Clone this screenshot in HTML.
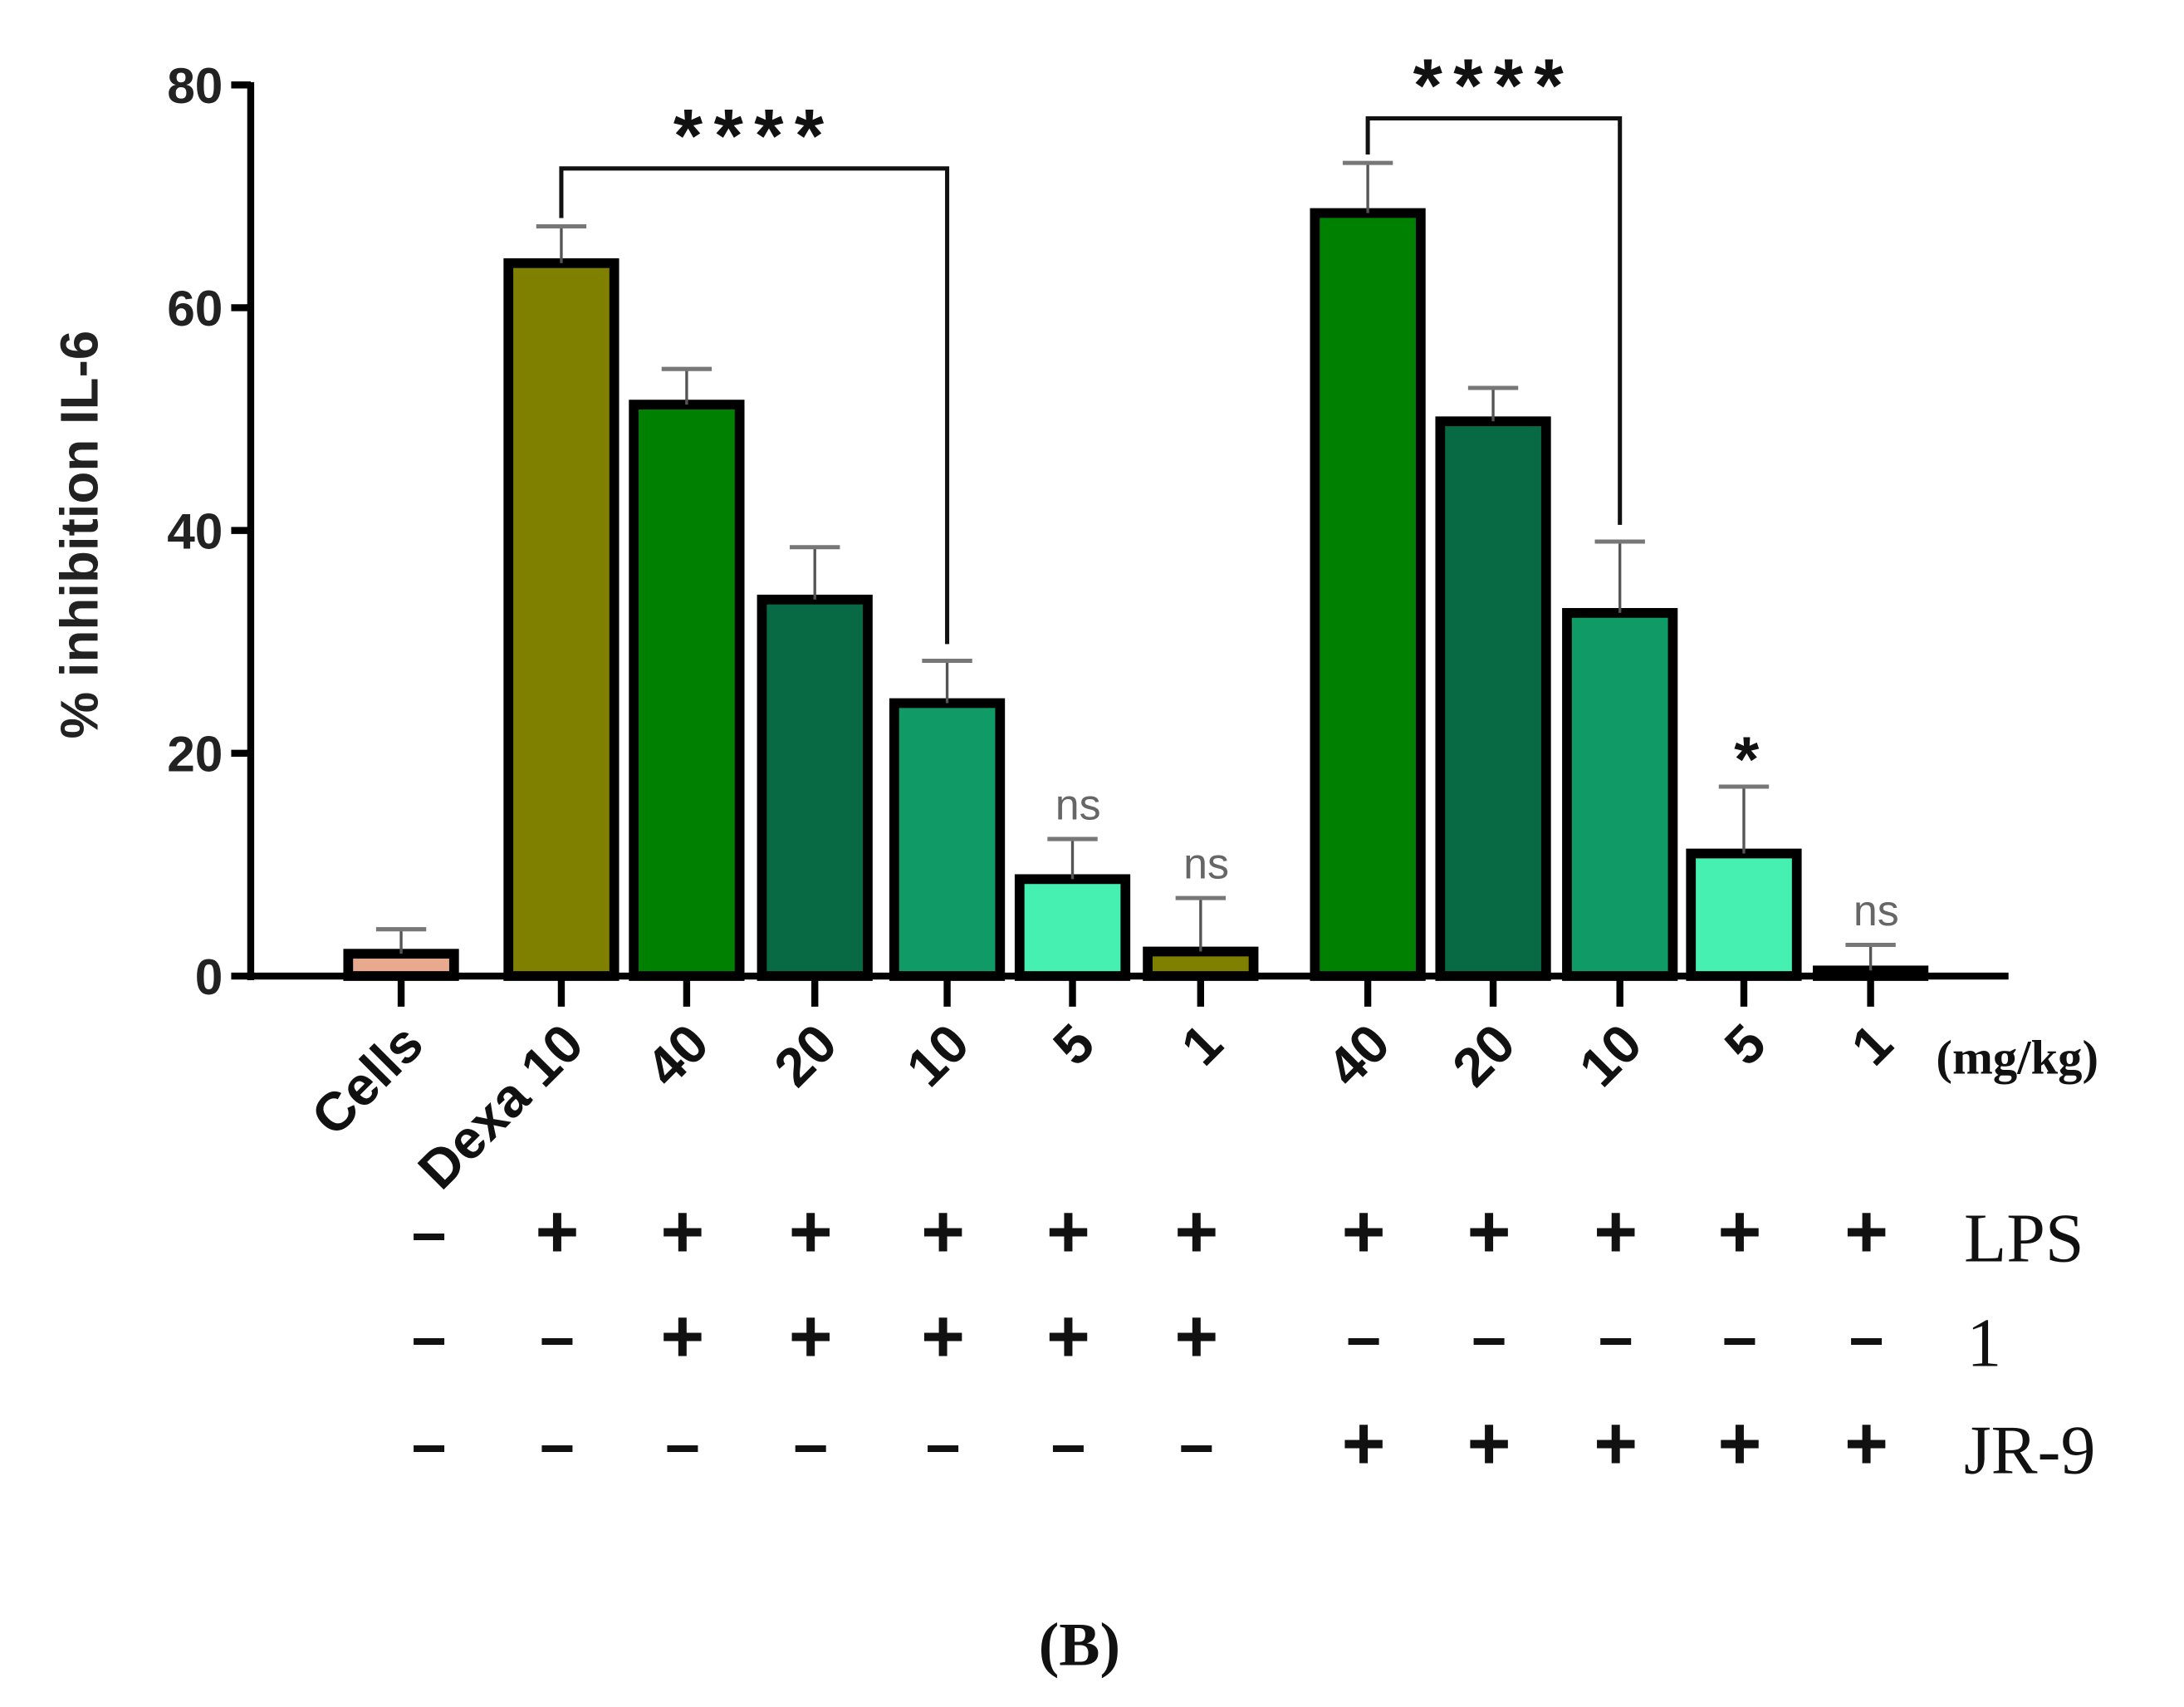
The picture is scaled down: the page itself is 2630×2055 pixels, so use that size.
<!DOCTYPE html>
<html><head><meta charset="utf-8"><style>
html,body{margin:0;padding:0;background:#fff;}
svg{display:block;}
</style></head><body>
<svg id="chart" width="2630" height="2055" viewBox="0 0 1568 1226" preserveAspectRatio="none" xmlns="http://www.w3.org/2000/svg">
<g id="bars"></g>
<g id="errs"></g>
<g id="yaxis"></g>
<g id="xaxis"></g>
<g id="annot"></g>
<g id="table"></g>
<text transform="translate(70,384) rotate(-90)" text-anchor="middle" font-family="Liberation Sans, sans-serif" font-weight="bold" font-size="38" fill="#222">% inhibition IL-6</text>
<text x="1390" y="771" font-family="Liberation Serif, serif" font-weight="bold" font-size="35" fill="#111">(mg/kg)</text>
<text x="775" y="1196" text-anchor="middle" font-family="Liberation Serif, serif" font-weight="bold" font-size="44" fill="#111">(B)</text>
</svg>
<script>
const categories = ["Cells","Dexa 10","40","20","10","5","1","40","20","10","5","1"];
const values = [2.0,64.0,51.3,33.8,24.5,8.7,2.2,68.5,49.8,32.6,11.0,0.5];
const errors = [2.2,3.3,3.2,4.7,3.8,3.6,4.8,4.5,3.0,6.4,6.0,2.3];
const colors = ["#e8a98e","#808000","#008000","#076a44","#0f9a66","#45f0b0","#808000","#008000","#076a44","#0f9a66","#45f0b0","#808000"];
const yTicks = [0,20,40,60,80];
const lpsRow = ["−","+","+","+","+","+","+","+","+","+","+","+"];
const cmpd1Row = ["−","−","+","+","+","+","+","−","−","−","−","−"];
const jr9Row = ["−","−","−","−","−","−","−","+","+","+","+","+"];
const nsMarks = [{i:5,t:"ns"},{i:6,t:"ns"},{i:11,t:"ns"},{i:10,t:"*"}];
const brackets = [{a:1,b:4,level:72.5},{a:7,b:9,level:77}];

const NS="http://www.w3.org/2000/svg";
const X0=180,X1=1442,Y0=701,Y80=61;
const centers=[288,403,493,585,680,770,862,982,1072,1163,1252,1343];
function yS(v){return Y0-(v/80)*(Y0-Y80);}
function xS(i){return centers[i];}
function mk(tag,attrs,parent,txt){const e=document.createElementNS(NS,tag);for(const k in attrs)e.setAttribute(k,attrs[k]);if(txt!==undefined)e.textContent=txt;parent.appendChild(e);return e;}
const bars=document.getElementById('bars'),errs=document.getElementById('errs'),ya=document.getElementById('yaxis'),xa=document.getElementById('xaxis'),an=document.getElementById('annot'),tb=document.getElementById('table');
const BW=76;
values.forEach((v,i)=>{
  const top=yS(v);
  const r=mk('rect',{x:xS(i)-BW/2,y:top,width:BW,height:Math.max(Y0-top,1),fill:colors[i],stroke:'#000','stroke-width':7},bars);
  
  
  const et=yS(v+errors[i]);
  const l=mk('line',{x1:xS(i),x2:xS(i),y1:top,y2:et,stroke:'#555','stroke-width':2},errs);
  
  
  const c=mk('line',{x1:xS(i)-18,x2:xS(i)+18,y1:et,y2:et,stroke:'#777','stroke-width':3},errs);
  
  
});
mk('line',{x1:X0,x2:X0,y1:Y80-2,y2:Y0+3,stroke:'#000','stroke-width':5},ya);
yTicks.forEach(t=>{
  mk('line',{x1:X0-14,x2:X0,y1:yS(t),y2:yS(t),stroke:'#000','stroke-width':5},ya);
  const tx=mk('text',{x:X0-20,y:yS(t)+13,'text-anchor':'end','font-family':'Liberation Sans, sans-serif','font-weight':'bold','font-size':36,fill:'#222'},ya,String(t));
  
  
});
mk('line',{x1:X0,x2:X1,y1:Y0,y2:Y0,stroke:'#000','stroke-width':5},xa);
categories.forEach((c,i)=>{
  mk('line',{x1:xS(i),x2:xS(i),y1:Y0,y2:Y0+22,stroke:'#000','stroke-width':5},xa);
  const tx=mk('text',{transform:`translate(${xS(i)+18},${752}) rotate(-45)`,'text-anchor':'end','font-family':'Liberation Sans, sans-serif','font-weight':'bold','font-size':39,fill:'#111'},xa,c);
  
  
});
brackets.forEach(b=>{
  const y=yS(b.level);
  const ya1=yS(values[b.a]+errors[b.a])-6, yb=yS(values[b.b]+errors[b.b])-12;
  const p=mk('path',{d:`M${xS(b.a)},${ya1} V${y} H${xS(b.b)} V${yb}`,fill:'none',stroke:'#111','stroke-width':3},an);
  
  
  const s=mk('text',{x:(xS(b.a)+xS(b.b))/2,y:y-5,'text-anchor':'middle','font-family':'Liberation Sans, sans-serif','font-weight':'bold','font-size':54,'letter-spacing':'8',fill:'#111'},an,'****');
  
  
});
nsMarks.forEach(m=>{
  const y=yS(values[m.i]+errors[m.i])-14;
  const isStar=m.t==='*';
  const t=mk('text',{x:xS(m.i)+(isStar?2:4),y:isStar?y+10:y,'text-anchor':'middle','font-family':'Liberation Sans, sans-serif','font-size':isStar?46:31,'font-weight':isStar?'bold':'normal',fill:isStar?'#111':'#666'},an,m.t);
  
  
});
const rows=[[lpsRow,888,'LPS'],[cmpd1Row,963,'1'],[jr9Row,1040,'JR-9']];
rows.forEach(([row,y,lab])=>{
  row.forEach((s,i)=>{
    const x=i===0?308:xS(i)-3;
    const t=mk('text',{x:x,y:y+15,'text-anchor':'middle','font-family':'Liberation Sans, sans-serif','font-weight':'bold','font-size':s==='+'?54:44,fill:'#111'},tb,s);
    
    
  });
  const l=mk('text',{x:lab==='1'?1412:1410,y:y+18,'font-family':'Liberation Serif, serif','font-size':50,fill:'#111'},tb,lab);
  
  
});
</script>
</body></html>
